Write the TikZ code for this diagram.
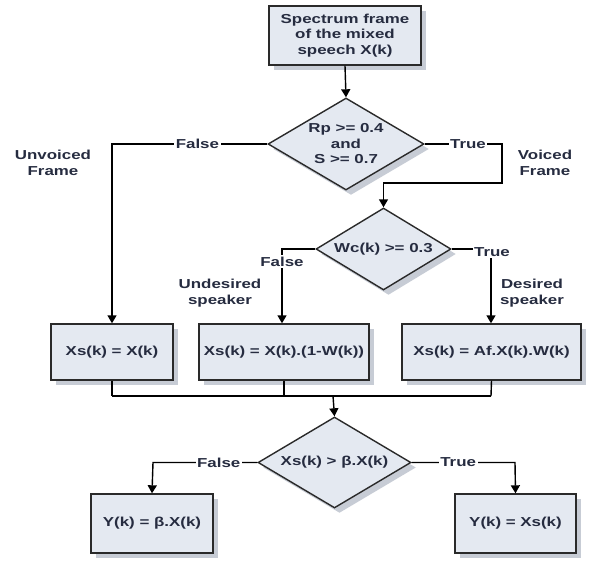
\documentclass[tikz,border=0pt]{standalone}
\usepackage{fontspec}
\setmainfont{Liberation Sans}[FakeStretch=1.3]
\usetikzlibrary{shapes.geometric,arrows.meta,shadows}
\definecolor{boxfill}{HTML}{E4E9F1}
\definecolor{shadowc}{HTML}{C7CCD5}
\definecolor{txt}{HTML}{262C40}
\definecolor{edge}{HTML}{2A2A2A}
\tikzset{
  base/.style={draw=edge, line width=1.4pt, fill=boxfill, text=txt,
    font=\fontsize{13}{15.5}\selectfont\bfseries, align=center,
    drop shadow={shadow xshift=5pt, shadow yshift=-5pt, fill=shadowc, opacity=1}},
  procbox/.style={base, rectangle, inner sep=0pt},
  decide/.style={base, diamond, inner sep=0pt},
  conn/.style={line width=1.4pt, draw=black},
  arr/.style={conn, -{Triangle[length=8pt,width=9pt]}},
  lbl/.style={text=txt, font=\fontsize{13}{16.5}\selectfont\bfseries, align=center, inner sep=1pt},
  onlbl/.style={lbl, fill=white, inner sep=1.5pt}
}
\begin{document}
\begin{tikzpicture}[x=1pt,y=-1pt]
\useasboundingbox[fill=white] (0,0) rectangle (592,563);
% nodes
\node[procbox, minimum width=152pt, minimum height=59pt] (top) at (345,35.5) {Spectrum frame\\of the mixed\\speech X(k)};
\node[decide, minimum width=156pt, minimum height=92pt, aspect=1.7] (d1) at (346,144) {Rp >= 0.4\\and\\S >= 0.7};
\node[decide, minimum width=135pt, minimum height=82pt, aspect=1.65] (d2) at (383.5,249) {Wc(k) >= 0.3};
\node[procbox, minimum width=122pt, minimum height=56pt] (bl) at (112,352) {Xs(k) = X(k)};
\node[procbox, minimum width=170pt, minimum height=56pt] (bm) at (284,352) {Xs(k) = X(k).(1-W(k))};
\node[procbox, minimum width=179pt, minimum height=56pt] (br) at (491.5,352) {Xs(k) = Af.X(k).W(k)};
\node[decide, minimum width=153pt, minimum height=91pt, aspect=1.68] (d3) at (334.5,462.5) {Xs(k) > β.X(k)};
\node[procbox, minimum width=122pt, minimum height=59pt] (yl) at (152,523.5) {Y(k) = β.X(k)};
\node[procbox, minimum width=121pt, minimum height=59pt] (yr) at (515.5,523.5) {Y(k) = Xs(k)};
% side labels
\node[lbl] (unv) at (53,163) {Unvoiced\\Frame};
\node[lbl] (voi) at (545,163) {Voiced\\Frame};
\node[lbl] (und) at (220,293) {Undesired\\speaker};
\node[lbl] (des) at (532,293) {Desired\\speaker};
% corner coordinates
\coordinate (c1) at (112,144);
\coordinate (c2a) at (502,144);
\coordinate (c2b) at (502,183);
\coordinate (c2c) at (383.5,183);
\coordinate (c3) at (282,249);
\coordinate (c4) at (491,249);
\coordinate (jl) at (112,396);
\coordinate (jm) at (284,396);
\coordinate (jr) at (491,396);
\coordinate (jc) at (333,396);
\coordinate (c5) at (153,462.5);
\coordinate (c6) at (515,462.5);
% connectors
\draw[arr] (top.south) -- (d1.north);
\draw[arr] (d1.west) -- node[onlbl, pos=0.45] (f1) {False} (c1) -- (bl.north);
\draw[arr] (d1.east) -- node[onlbl, pos=0.56] (t1) {True} (c2a) -- (c2b) -- (c2c) -- (d2.north);
\draw[arr] (d2.west) -- (c3) -- node[onlbl, pos=0.17] (f2) {False} (c3 |- bm.north);
\draw[arr] (d2.east) -- (c4) -- (c4 |- br.north);
\node[onlbl] (t2) at (492,252) {True};
\draw[conn] (bl.south) -- (jl);
\draw[conn] (bm.south) -- (jm);
\draw[conn] (br.south) -- (jr);
\draw[conn] (jl) -- (jr);
\draw[arr] (jc) -- (d3.north);
\draw[arr] (d3.west) -- node[onlbl, pos=0.37] (f3) {False} (c5) -- (yl.north);
\draw[arr] (d3.east) -- node[onlbl, pos=0.45] (t3) {True} (c6) -- (yr.north);
\end{tikzpicture}
\end{document}
